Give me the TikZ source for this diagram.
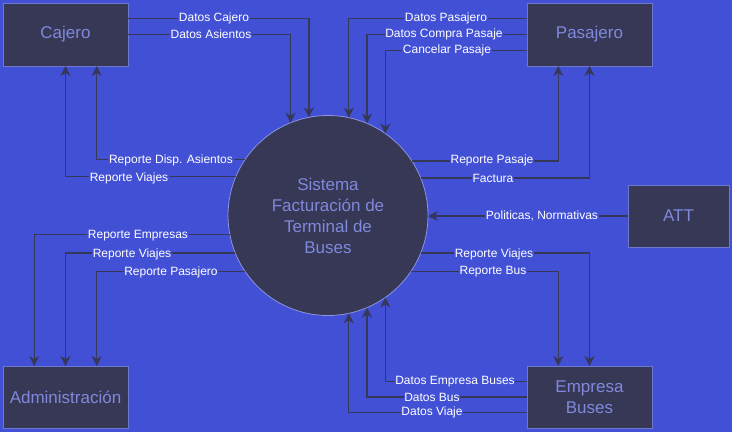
\documentclass[tikz,border=0pt]{standalone}
\usepackage{fontspec}
\setmainfont{Liberation Sans}
\usetikzlibrary{arrows.meta,calc}
\definecolor{bg}{HTML}{4250D6}
\definecolor{boxfill}{HTML}{363856}
\definecolor{boxborder}{HTML}{6E77CE}
\definecolor{boxtext}{HTML}{8088DC}
\definecolor{flowline}{HTML}{363858}
\definecolor{circborder}{HTML}{8C93E0}
\begin{document}
\begin{tikzpicture}[x=1pt,y=-1pt,
  entity/.style={draw=boxborder, fill=boxfill, text=boxtext, font=\fontsize{17}{21}\selectfont,
    inner sep=0pt, outer sep=0pt, line width=1pt, align=center},
  proc/.style={circle, draw=circborder, fill=boxfill, text=boxtext, font=\fontsize{17}{21}\selectfont,
    minimum size=200pt, inner sep=0pt, outer sep=0pt, line width=0.8pt, align=center},
  flow/.style={draw=flowline, line width=1.3pt, -{Stealth[length=10pt,width=10pt,inset=3pt]}},
  lbl/.style={fill=bg, text=white, font=\fontsize{12}{14}\selectfont, inner sep=0.6pt}
]
\fill[bg] (0,0) rectangle (732,432);
\useasboundingbox (0,0) rectangle (732,432);

% entities
\node[entity, minimum width=125pt, minimum height=63pt] (caj) at (65.5,34.5) {Cajero};
\node[entity, minimum width=125pt, minimum height=63pt] (pas) at (589.5,34.5) {Pasajero};
\node[entity, minimum width=101pt, minimum height=62pt] (att) at (678.5,216) {ATT};
\node[entity, minimum width=125pt, minimum height=62pt] (adm) at (65.5,397) {Administración};
\node[entity, minimum width=125pt, minimum height=62pt] (emp) at (589.5,397) {Empresa\\Buses};
\node[proc] (sys) at (328,215.5) {Sistema\\Facturación de\\Terminal de\\Buses};

% Cajero -> sistema
\draw[flow] ($(caj.north east)!0.25!(caj.south east)$) -| (sys.101.54);
\draw[flow] ($(caj.north east)!0.5!(caj.south east)$) -| (sys.112.33);
% sistema -> Cajero
\draw[flow] (sys.146.29) -| ($(caj.south west)!0.75!(caj.south east)$);
\draw[flow] (sys.157.98) -| ($(caj.south west)!0.5!(caj.south east)$);

% Pasajero -> sistema
\draw[flow] ($(pas.north west)!0.25!(pas.south west)$) -| (sys.78.46);
\draw[flow] ($(pas.north west)!0.5!(pas.south west)$) -| (sys.67.67);
\draw[flow] ($(pas.north west)!0.75!(pas.south west)$) -| (sys.55.94);
% sistema -> Pasajero
\draw[flow] (sys.33.71) -| ($(pas.south west)!0.25!(pas.south east)$);
\draw[flow] (sys.22.02) -| ($(pas.south west)!0.5!(pas.south east)$);

% ATT -> sistema
\draw[flow] (att.west) -- (att.west -| sys.east);

% sistema -> Administracion
\draw[flow] (sys.191.83) -| ($(adm.north west)!0.25!(adm.north east)$);
\draw[flow] (sys.202.64) -| ($(adm.north west)!0.5!(adm.north east)$);
\draw[flow] (sys.214.40) -| ($(adm.north west)!0.75!(adm.north east)$);

% sistema -> Empresa Buses
\draw[flow] (sys.-22.64) -| ($(emp.north west)!0.5!(emp.north east)$);
\draw[flow] (sys.-34.40) -| ($(emp.north west)!0.25!(emp.north east)$);
% Empresa Buses -> sistema
\draw[flow] ($(emp.north west)!0.25!(emp.south west)$) -| (sys.-55.94);
\draw[flow] ($(emp.north west)!0.5!(emp.south west)$) -| (sys.-67.67);
\draw[flow] ($(emp.north west)!0.75!(emp.south west)$) -| (sys.-78.46);

% labels
\node[lbl] (l1) at (214,18.75) {Datos Cajero};
\node[lbl] (l2) at (211,34.5) {Datos Asientos};
\node[lbl] (l3) at (171,160) {Reporte Disp. Asientos};
\node[lbl] (l4) at (129,178) {Reporte Viajes};
\node[lbl] (l5) at (446,18.75) {Datos Pasajero};
\node[lbl] (l6) at (444,34.5) {Datos Compra Pasaje};
\node[lbl] (l7) at (447,50.25) {Cancelar Pasaje};
\node[lbl] (l8) at (492,160) {Reporte Pasaje};
\node[lbl] (l9) at (493,178) {Factura};
\node[lbl] (l10) at (542,216) {Politicas, Normativas};
\node[lbl] (l11) at (138,236) {Reporte Empresas};
\node[lbl] (l12) at (132,254) {Reporte Viajes};
\node[lbl] (l13) at (171,272) {Reporte Pasajero};
\node[lbl] (l14) at (494,254) {Reporte Viajes};
\node[lbl] (l15) at (493,272) {Reporte Bus};
\node[lbl] (l16) at (455,381.5) {Datos Empresa Buses};
\node[lbl] (l17) at (432,397) {Datos Bus};
\node[lbl] (l18) at (432,412.5) {Datos Viaje};
\end{tikzpicture}
\end{document}
